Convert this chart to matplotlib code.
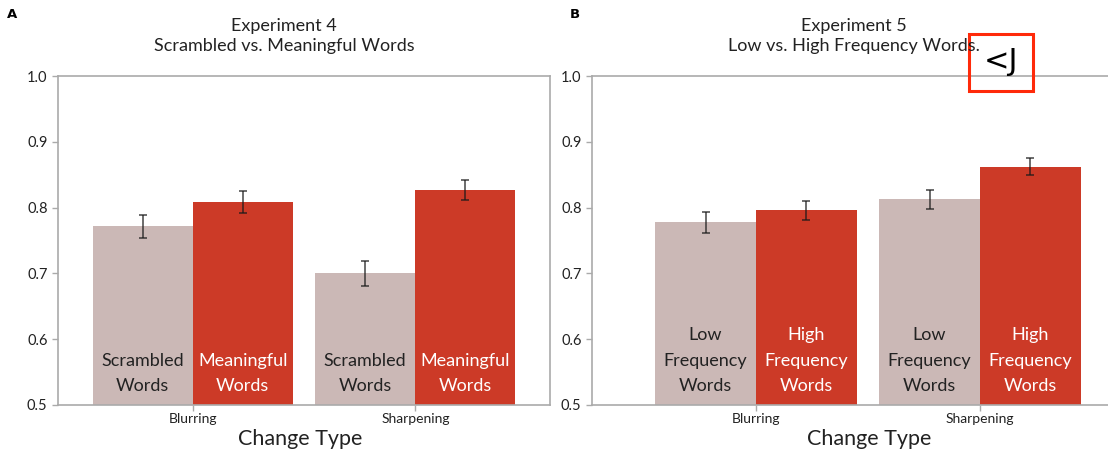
import numpy as np
import matplotlib
matplotlib.use('Agg')
import matplotlib.pyplot as plt
from matplotlib.patches import Rectangle

plt.rcParams['font.family'] = ['Lato', 'DejaVu Sans']

CHANGE_TYPES = ['Blurring', 'Sharpening']

# Experiment 4
EXP4_LABELS = ['Scrambled\nWords', 'Meaningful\nWords']
EXP4_MEAN   = [[0.772, 0.700], [0.808, 0.827]]
EXP4_SE     = [[0.0175, 0.0185], [0.0165, 0.0155]]

# Experiment 5
EXP5_LABELS = ['Low\nFrequency\nWords', 'High\nFrequency\nWords']
EXP5_MEAN   = [[0.778, 0.813], [0.796, 0.862]]
EXP5_SE     = [[0.016, 0.0145], [0.0145, 0.013]]

YTICKS = [0.5, 0.6, 0.7, 0.8, 0.9, 1.0]

PINK  = '#cbb8b6'
RED   = '#cc3a27'
SPINE = '#aaaaaa'
TXT   = '#222222'

W, H = 1108, 453
fig = plt.figure(figsize=(W / 100, H / 100), dpi=100)


def px_axes(x0, x1, y0, y1):
    return fig.add_axes([x0 / W, 1 - y1 / H, (x1 - x0) / W, (y1 - y0) / H])


def draw_panel(ax, means, ses, labels, title, title_x, xlim, xlabel_x):
    x = np.arange(len(CHANGE_TYPES))
    width = 0.45
    colors = [PINK, RED]
    txt_colors = [TXT, 'white']
    for i in range(2):
        pos = x + (i - 0.5) * width
        ax.bar(pos, np.array(means[i]) - 0.5, bottom=0.5, width=width,
               color=colors[i], zorder=2, linewidth=0)
        ax.errorbar(pos, means[i], yerr=ses[i], fmt='none', ecolor='#1a1a1a',
                    elinewidth=1.2, capsize=3, capthick=1.2, alpha=0.75, zorder=3)
        for p in pos:
            ax.text(p, 0.5165, labels[i], ha='center', va='bottom',
                    fontsize=13, color=txt_colors[i],
                    linespacing=1.74, zorder=4)
    ax.set_ylim(0.5, 1.0)
    ax.set_xlim(*xlim)
    ax.set_yticks(YTICKS)
    ax.set_yticklabels([f'{t:.1f}' for t in YTICKS])
    ax.set_xticks(x)
    ax.set_xticklabels(CHANGE_TYPES)
    ax.tick_params(axis='both', colors=TXT, labelsize=10.5, length=4,
                   width=1, direction='out')
    ax.tick_params(axis='both', color=SPINE)
    ax.tick_params(axis='x', labelsize=10, pad=2)
    for sp in ax.spines.values():
        sp.set_color(SPINE)
        sp.set_linewidth(1.2)
    ax.set_xlabel('Change Type', fontsize=15.5, color=TXT)
    x0, x1 = ax.get_position().x0 * W, ax.get_position().x1 * W
    ax.xaxis.set_label_coords((xlabel_x - x0) / (x1 - x0), -0.072)
    fig.text(title_x / W, 1 - 36 / H, title, ha='center', va='center',
             fontsize=13, color=TXT, linespacing=1.3)


axA = px_axes(58, 550, 76, 405)
draw_panel(axA, EXP4_MEAN, EXP4_SE, EXP4_LABELS,
           'Experiment 4\nScrambled vs. Meaningful Words', 284,
           (-0.605, 1.605), 300)

# panel B runs off the right edge of the figure
axB = px_axes(592, 1144, 76, 405)
draw_panel(axB, EXP5_MEAN, EXP5_SE, EXP5_LABELS,
           'Experiment 5\nLow vs. High Frequency Words.', 854,
           (-0.732, 1.732), 869)

fig.text(12 / W, 1 - 14 / H, 'A', fontsize=9.5, fontweight='bold',
         ha='center', va='center', family='DejaVu Sans')
fig.text(575 / W, 1 - 14 / H, 'B', fontsize=9.5, fontweight='bold',
         ha='center', va='center', family='DejaVu Sans')

# red highlight box with glyphs
fig.patches.append(Rectangle((969 / W, 1 - 91 / H), 64 / W, 57 / H,
                             transform=fig.transFigure, fill=False,
                             edgecolor='#ff2a0a', linewidth=2.2))
fig.text(1001 / W, 1 - 62 / H, '<J', fontsize=22, ha='center', va='center',
         color='black', family='DejaVu Sans')

plt.savefig('out.png', dpi=100)
plt.close()
